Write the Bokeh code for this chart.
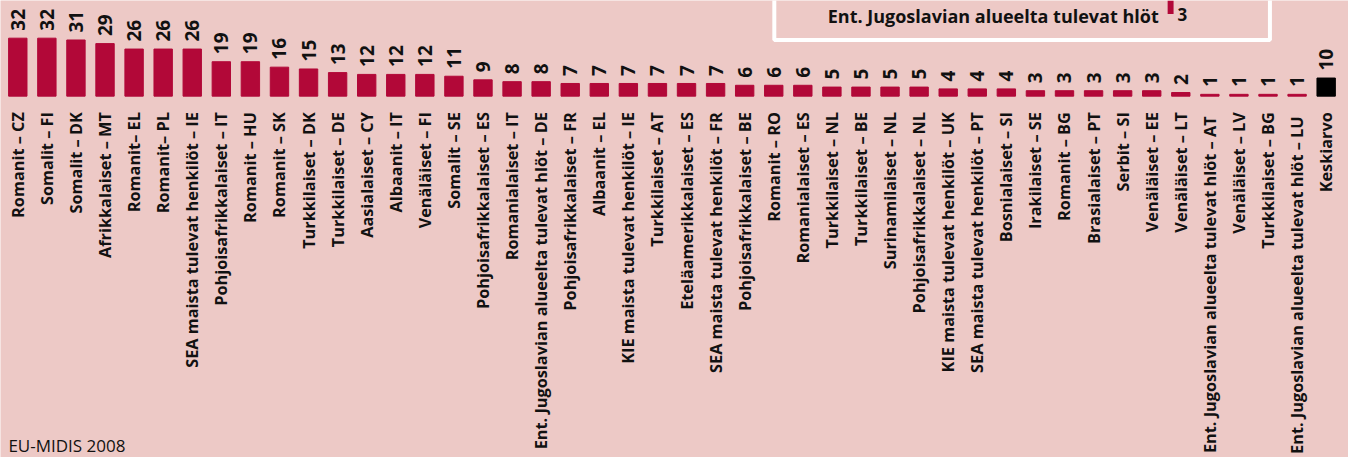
import math
from bokeh.plotting import figure
from bokeh.models import Range1d, FixedTicker, ColumnDataSource
from bokeh.embed import file_html
from bokeh.resources import INLINE
from bokeh.core.properties import value

# ---------------- data ----------------
categories = [
    "Romanit – CZ", "Somalit – FI", "Somalit – DK", "Afrikkalaiset – MT",
    "Romanit– EL", "Romanit– PL", "SEA maista tulevat henkilöt – IE",
    "Pohjoisafrikkalaiset – IT", "Romanit – HU", "Romanit – SK",
    "Turkkilaiset – DK", "Turkkilaiset – DE", "Aasialaiset – CY",
    "Albaanit – IT", "Venäläiset – FI", "Somalit – SE",
    "Pohjoisafrikkalaiset – ES", "Romanialaiset – IT",
    "Ent. Jugoslavian alueelta tulevat hlöt – DE", "Pohjoisafrikkalaiset – FR",
    "Albaanit – EL", "KIE maista tulevat henkilöt – IE", "Turkkilaiset – AT",
    "Eteläamerikkalaiset – ES", "SEA maista tulevat henkilöt – FR",
    "Pohjoisafrikkalaiset – BE", "Romanit – RO", "Romanialaiset – ES",
    "Turkkilaiset – NL", "Turkkilaiset – BE", "Surinamilaiset – NL",
    "Pohjoisafrikkalaiset – NL", "KIE maista tulevat henkilöt – UK",
    "SEA maista tulevat henkilöt – PT", "Bosnialaiset – SI",
    "Irakilaiset – SE", "Romanit – BG", "Brasialaiset – PT", "Serbit – SI",
    "Venäläiset – EE", "Venäläiset – LT",
    "Ent. Jugoslavian alueelta tulevat hlöt  – AT", "Venäläiset – LV",
    "Turkkilaiset – BG", "Ent. Jugoslavian alueelta tulevat hlöt  – LU",
    "Keskiarvo",
]
values = [32, 32, 31, 29, 26, 26, 26, 19, 19, 16, 15, 13, 12, 12, 12, 11,
          9, 8, 8, 7, 7, 7, 7, 7, 7, 6, 6, 6, 5, 5, 5, 5, 4, 4, 4,
          3, 3, 3, 3, 3, 2, 1, 1, 1, 1, 10]
average_label = "Keskiarvo"
legend_label = "Ent. Jugoslavian alueelta tulevat hlöt"
legend_value = 3
source_note = "EU-MIDIS 2008"

# ---------------- style / layout ----------------
BG = "#EDC9C6"
BAR = "#B20838"
AVG = "#000000"
TXT = "#111111"
FONT = "Open Sans"

W, H = 1348, 457
KX, KY = W / 1364, H / 473          # reference-pixel -> canvas-pixel
SPACING = 29.42 * KX                # pixels per category
PX_UNIT = 1.875 * KY                # pixels per value unit
BASE = 99 * KY                      # baseline, px from top
X0 = -(17.5 * KX) / SPACING         # left edge of frame (data)


def dx(rx):  # reference x pixel -> data x
    return X0 + rx * KX / SPACING


def dy(ry):  # reference y pixel -> data y
    return (BASE - ry * KY) / PX_UNIT


p = figure(
    width=W, height=H,
    x_range=Range1d(X0, X0 + W / SPACING),
    y_range=Range1d(-(H - BASE) / PX_UNIT, BASE / PX_UNIT),
    output_backend="svg", toolbar_location=None,
    y_axis_location=None,
    min_border_left=0, min_border_right=0, min_border_top=0,
    min_border_bottom=0,
    background_fill_color=BG, border_fill_color=BG,
    outline_line_color=None,
)
p.grid.visible = False

xs = list(range(len(categories)))
src = ColumnDataSource(dict(
    x=xs, v=values,
    lab=[str(v) for v in values],
    color=[AVG if c == average_label else BAR for c in categories],
))

p.vbar(x="x", top="v", bottom=0, width=18.6 * KX / SPACING, color="color",
       source=src)

# value labels, vertical, just above each bar
p.text(x="x", y="v", text="lab", source=src, angle=math.pi / 2,
       text_align="left", text_baseline="middle", y_offset=-7.5,
       text_font=value(FONT), text_font_size="19px",
       text_font_style="bold", text_color=TXT)

# category labels: axis pinned at the baseline
ax = p.xaxis[0]
ax.fixed_location = 0
ax.ticker = FixedTicker(ticks=xs)
ax.major_label_overrides = {i: c for i, c in enumerate(categories)}
ax.major_label_orientation = math.pi / 2
ax.axis_line_color = None
ax.major_tick_line_color = None
ax.minor_tick_line_color = None
ax.major_tick_out = 0
ax.major_tick_in = 0
ax.major_label_standoff = 16
ax.major_label_text_font = FONT
ax.major_label_text_font_style = "bold"
ax.major_label_text_font_size = "16.3px"
ax.major_label_text_color = TXT

# legend fragment (top right box, cut by the top edge)
p.quad(left=[dx(783)], right=[dx(1284.5)], bottom=[dy(41)], top=[dy(-60)],
       fill_alpha=0, line_color="white", line_width=4)
p.text(x=[dx(1172)], y=[dy(16)], text=[legend_label], text_align="right",
       text_baseline="alphabetic", text_font=value(FONT),
       text_font_style="bold", text_font_size="18px", text_color=TXT)
p.quad(left=[dx(1181)], right=[dx(1187)], bottom=[dy(14)], top=[dy(0)],
       color=BAR, line_color=None)
p.text(x=[dx(1191)], y=[dy(15)], text=[str(legend_value)], text_align="left",
       text_baseline="alphabetic", text_font=value(FONT),
       text_font_style="bold", text_font_size="17px", text_color=TXT)

# source note
p.text(x=[dx(8)], y=[dy(461)], text=[source_note], text_align="left",
       text_baseline="alphabetic", text_font=value(FONT),
       text_font_size="17px", text_color=TXT)

open("out.html", "w").write(file_html(p, INLINE))
